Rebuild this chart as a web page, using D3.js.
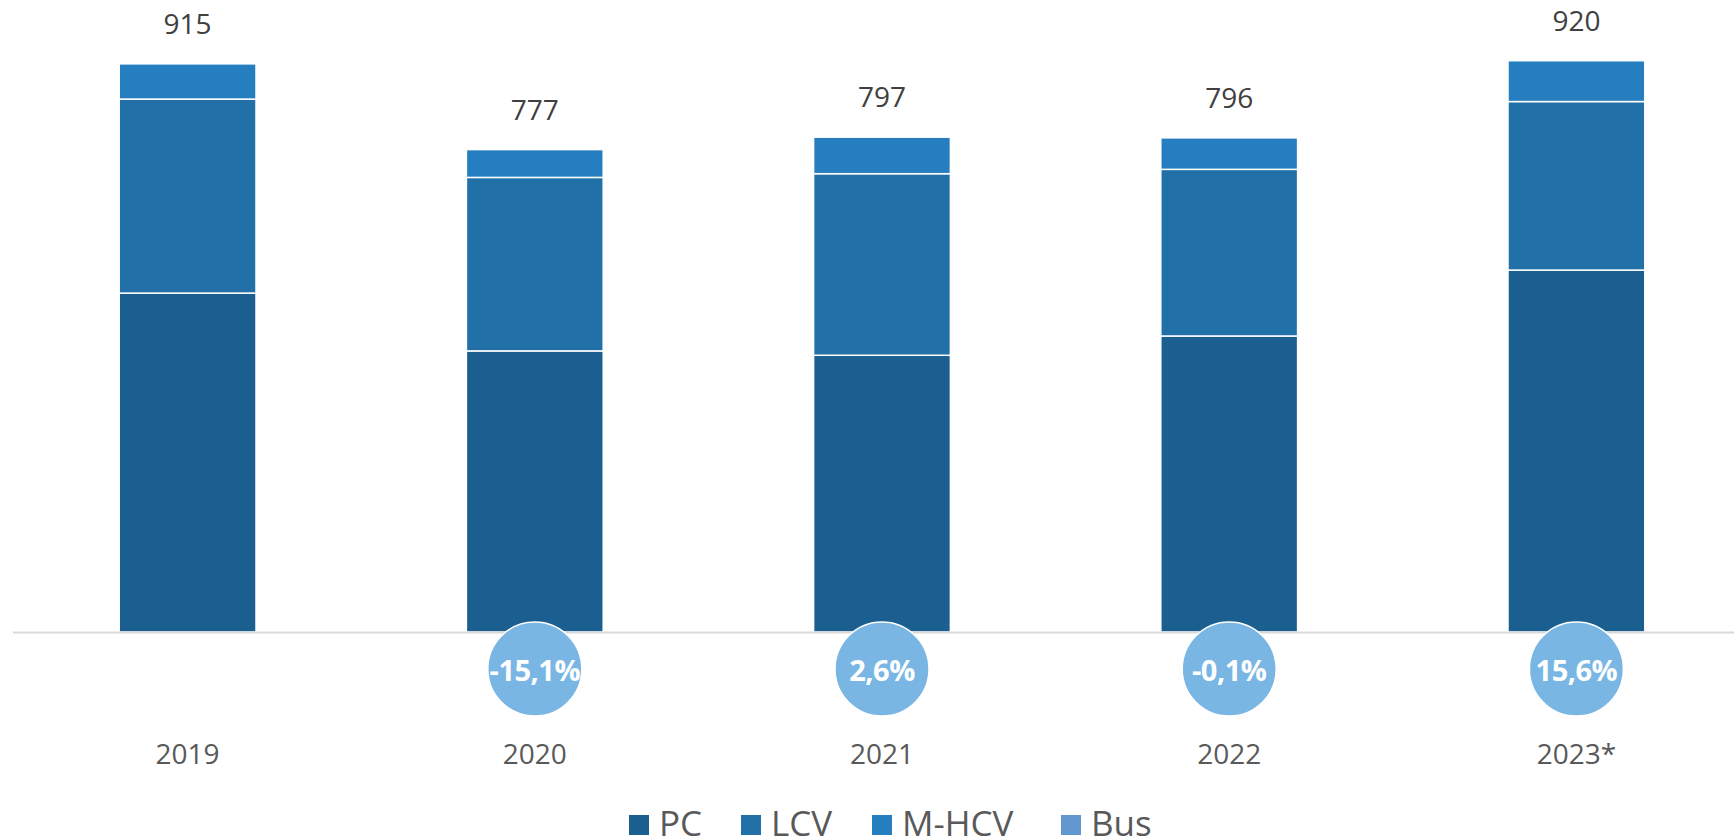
<!DOCTYPE html>
<html>
<head>
<meta charset="utf-8">
<script src="https://cdn.jsdelivr.net/npm/d3@7"></script>
<style>
  body { margin: 0; background: #fff; }
  svg { display: block; font-family: "Open Sans", sans-serif; }
</style>
</head>
<body>
<svg id="chart" width="1734" height="840"></svg>
<script>
// data (thousand units)
var years = ['2019', '2020', '2021', '2022', '2023*']
var pc = [545, 452, 445, 476, 582]
var lcv = [312, 279, 292, 268, 271]
var mhcv = [57, 45, 59, 51, 66]
var bus = [1, 1, 1, 1, 1]
var totals = [915, 777, 797, 796, 920]
var growth = [null, '-15,1%', '2,6%', '-0,1%', '15,6%']

var seriesNames = ['PC', 'LCV', 'M-HCV', 'Bus']
var colors = ['#1b5f91', '#2171a8', '#257ebf', '#6397cf']

var rows = years.map(function (y, i) {
  return { year: y, PC: pc[i], LCV: lcv[i], 'M-HCV': mhcv[i], Bus: bus[i] }
})

var svg = d3.select('#chart')
var baseY = 632

var x = d3.scaleBand()
          .domain(years)
          .range([14, 1750])
          .paddingInner(0.606)
          .paddingOuter(0.303)

var y = d3.scaleLinear()
          .domain([0, 915])
          .range([baseY, 63])

var stack = d3.stack().keys(seriesNames)(rows)

svg.append('g')
   .selectAll('g')
   .data(stack)
   .enter()
   .append('g')
   .attr('fill', (d, i) => colors[i])
   .selectAll('rect')
   .data(d => d)
   .enter()
   .append('rect')
   .attr('x', d => x(d.data.year))
   .attr('width', x.bandwidth())
   .attr('y', d => y(d[1]))
   .attr('height', d => y(d[0]) - y(d[1]))
   .attr('stroke', '#fff')
   .attr('stroke-width', 1.5)

// axis line
svg.append('line')
   .attr('x1', 13).attr('x2', 1734)
   .attr('y1', baseY + 0.5).attr('y2', baseY + 0.5)
   .attr('stroke', '#d9d9d9')
   .attr('stroke-width', 2)

// totals
svg.append('g')
   .selectAll('text')
   .data(totals)
   .enter()
   .append('text')
   .attr('x', (d, i) => x(years[i]) + x.bandwidth() / 2)
   .attr('y', d => y(d) - 29)
   .attr('text-anchor', 'middle')
   .attr('font-size', 28)
   .attr('fill', '#404040')
   .text(d => d)

// category labels
svg.append('g')
   .selectAll('text')
   .data(years)
   .enter()
   .append('text')
   .attr('x', d => x(d) + x.bandwidth() / 2)
   .attr('y', 764)
   .attr('text-anchor', 'middle')
   .attr('font-size', 28)
   .attr('fill', '#595959')
   .text(d => d)

// growth bubbles
var bub = svg.append('g')
             .selectAll('g')
             .data(growth.map((g, i) => ({ g: g, year: years[i] })).filter(d => d.g))
             .enter()
             .append('g')
             .attr('transform', d => 'translate(' + (x(d.year) + x.bandwidth() / 2) + ',669)')

bub.append('circle')
   .attr('r', 47)
   .attr('fill', '#79b6e4')
   .attr('stroke', '#fff')
   .attr('stroke-width', 1.5)

bub.append('text')
   .attr('y', 12)
   .attr('text-anchor', 'middle')
   .attr('font-size', 29)
   .attr('font-weight', 'bold')
   .attr('fill', '#fff')
   .attr('letter-spacing', -0.5)
   .text(d => d.g)

// legend
var legX = [629, 741, 872, 1061]
var leg = svg.append('g')
             .selectAll('g')
             .data(seriesNames)
             .enter()
             .append('g')
             .attr('transform', (d, i) => 'translate(' + legX[i] + ',815)')

leg.append('rect')
   .attr('width', 20)
   .attr('height', 20)
   .attr('fill', (d, i) => colors[i])

leg.append('text')
   .attr('x', 30)
   .attr('y', 21)
   .attr('font-size', 35)
   .attr('fill', '#595959')
   .text(d => d)
</script>
</body>
</html>
